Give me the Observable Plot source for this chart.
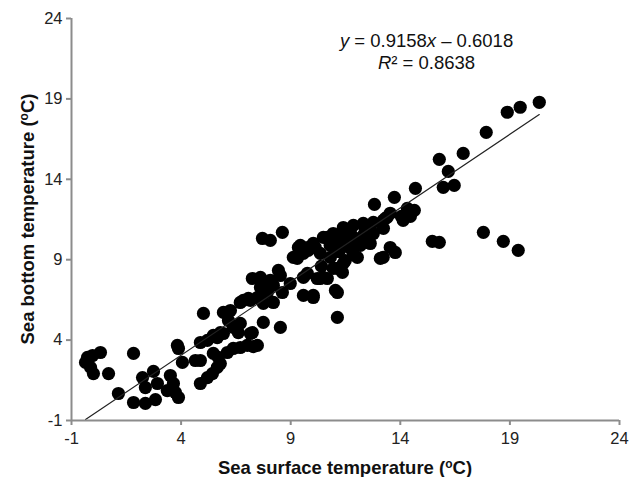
<!DOCTYPE html>
<html><head><meta charset="utf-8">
<script src="https://cdn.jsdelivr.net/npm/d3@7"></script>
<script src="https://cdn.jsdelivr.net/npm/@observablehq/plot@0.6"></script>
<style>body{margin:0;background:#fff} svg{display:block}</style>
</head><body><div id="chart"></div>
<script>
// Sea surface temperature (x) and sea bottom temperature (y), °C
const seaSurface = [
 -0.27,-0.04,0.32,-0.36,-0.13,0.0,0.69,1.83,1.14,1.83,2.37,2.83,2.24,2.74,2.92,2.37,3.83,3.88,4.06,3.51,
 3.65,3.37,3.74,3.88,4.88,4.65,5.02,4.88,5.2,4.88,5.2,5.43,5.65,5.79,5.47,5.65,5.93,5.93,6.25,6.16,
 6.38,6.7,6.11,6.38,6.7,7.02,7.3,7.48,7.25,6.84,7.16,7.48,7.62,7.93,7.75,8.21,8.07,8.53,8.62,7.25,
 7.62,7.75,8.53,7.71,8.07,8.62,9.12,9.35,9.76,10.03,9.58,8.98,9.58,9.58,10.03,10.35,10.67,11.13,11.13,11.13,
 10.67,10.94,6.7,7.07,5.79,5.47,6.61,5.7,7.16,9.44,9.8,9.3,10.12,11.13,8.44,8.21,8.07,11.04,10.49,11.4,
 11.86,12.31,12.77,13.22,13.4,10.94,11.4,11.86,12.31,12.77,11.26,11.72,12.18,12.63,12.04,11.49,13.22,13.77,13.09,10.03,
 9.76,10.49,10.94,11.36,10.81,10.35,13.54,14.13,10.21,10.03,12.82,13.73,14.32,14.64,14.05,14.46,13.32,13.23,14.69,15.78,
 16.19,15.96,16.46,16.87,17.92,18.88,19.47,20.34,17.79,18.7,19.38,15.46,15.78,13.54,11.4,11.72,11.4,11.86,10.4,12.5,
 11.6,12.0,12.4,10.8,11.2
];
const seaBottom = [
 2.92,3.04,3.23,2.61,2.3,1.92,1.92,3.17,0.68,0.12,0.06,0.3,1.67,2.05,1.3,1.05,3.67,3.48,2.61,1.8,
 1.3,0.86,0.74,0.43,2.73,2.73,5.66,3.85,3.98,1.3,1.67,1.92,2.3,2.54,3.17,4.16,4.41,5.72,5.84,5.22,
 4.79,5.04,3.23,3.48,3.54,3.67,3.6,3.67,4.47,6.47,6.47,6.65,7.27,6.96,6.28,6.34,7.71,8.02,6.96,7.83,
 7.9,5.1,4.79,10.32,10.2,10.7,9.14,9.76,9.76,9.89,9.39,7.52,7.9,6.78,6.78,7.83,7.83,8.46,6.96,5.41,
 10.39,10.63,6.34,6.59,4.47,4.29,4.47,2.92,4.41,9.89,9.58,9.08,9.76,9.76,8.33,7.4,7.52,7.09,10.39,11.0,
 11.13,11.26,11.32,11.45,11.64,10.2,10.32,10.39,10.51,10.63,9.7,9.7,9.89,10.01,9.14,8.95,9.14,9.45,9.08,10.01,
 8.15,7.9,8.46,8.21,9.14,9.39,9.76,11.45,7.83,6.65,12.44,12.88,12.19,12.07,11.69,11.69,11.57,10.95,13.44,15.24,
 14.49,13.5,13.62,15.61,16.92,18.17,18.48,18.79,10.7,10.14,9.58,10.14,10.08,11.89,10.4,10.7,8.77,9.3,8.6,10.8,
 10.0,10.2,10.9,9.9,9.5
];
const axisTicks = [-1, 4, 9, 14, 19, 24];
const slope = 0.9158, intercept = -0.6018, rSquared = 0.8638;
const xTitle = ["Sea surface temperature (", "o", "C)"];
const yTitle = ["Sea bottom temperature (", "o", "C)"];

const data = seaSurface.map((x, i) => ({x, y: seaBottom[i]}));
const [xMin, xMax] = d3.extent(seaSurface);
const fit = [xMin, xMax].map(x => ({x, y: slope * x + intercept}));

const axisGray = "#8c8c8c";
const fmt = d => String(d);
const plot = Plot.plot({
  width: 636,
  height: 477,
  marginLeft: 71,
  marginRight: 17,
  marginTop: 18,
  marginBottom: 57,
  style: {fontFamily: "'Liberation Sans', Arial, sans-serif", fontSize: "16px", background: "#fff"},
  x: {domain: [-1, 24], label: null},
  y: {domain: [-1, 24], label: null},
  marks: [
    Plot.dot(data, {x: "x", y: "y", r: 6.6, fill: "#000", stroke: "none"}),
    Plot.line(fit, {x: "x", y: "y", stroke: "#222", strokeWidth: 1.2}),
    Plot.axisX(axisTicks, {tickSize: 5, tickPadding: 7, tickFormat: fmt, stroke: axisGray, strokeWidth: 2, fill: "#222", fontSize: 16.5}),
    Plot.axisY(axisTicks, {tickSize: 5, tickPadding: 4, tickFormat: fmt, stroke: axisGray, strokeWidth: 2, fill: "#222", fontSize: 16.5}),
    Plot.ruleY([-1], {stroke: axisGray, strokeWidth: 2}),
    Plot.ruleX([-1], {stroke: axisGray, strokeWidth: 2})
  ]
});

const svg = d3.select(plot);
const sx = plot.scale("x"), sy = plot.scale("y");

function addTitle(parts, x, y, rotate) {
  const t = svg.append("text")
    .attr("text-anchor", "middle")
    .attr("font-weight", "bold")
    .attr("font-size", 18.5)
    .attr("fill", "#111")
    .attr("transform", `translate(${x},${y})${rotate ? " rotate(-90)" : ""}`);
  t.append("tspan").text(parts[0]);
  t.append("tspan").attr("font-size", 12).attr("dy", "-0.5em").text(parts[1]);
  t.append("tspan").attr("dy", "0.35em").text(parts[2]);
}
const plotMidX = (sx.apply(-1) + sx.apply(24)) / 2;
const plotMidY = (sy.apply(-1) + sy.apply(24)) / 2;
addTitle(xTitle, plotMidX, 474, false);
addTitle(yTitle, 34, plotMidY, true);

// Regression equation annotation
const eqX = sx.apply(15.22);
const eq1 = svg.append("text").attr("x", eqX).attr("y", sy.apply(22.2))
  .attr("text-anchor", "middle").attr("font-size", 18.5).attr("fill", "#111");
eq1.append("tspan").attr("font-style", "italic").text("y");
eq1.append("tspan").text(` = ${slope}`);
eq1.append("tspan").attr("font-style", "italic").text("x");
eq1.append("tspan").text(` \u2013 ${Math.abs(intercept)}`);
const eq2 = svg.append("text").attr("x", eqX).attr("y", sy.apply(20.85))
  .attr("text-anchor", "middle").attr("font-size", 18.5).attr("fill", "#111");
eq2.append("tspan").attr("font-style", "italic").text("R");
eq2.append("tspan").text(`\u00b2 = ${rSquared}`);

document.getElementById("chart").append(plot);
</script>
</body></html>
